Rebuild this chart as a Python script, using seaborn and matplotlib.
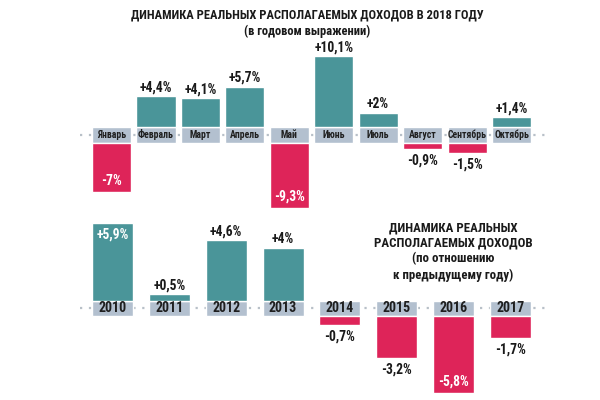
import os
import matplotlib
matplotlib.use("Agg")
import matplotlib.pyplot as plt
from matplotlib import font_manager as fm
import seaborn as sns

# Data
months = ["Январь", "Февраль", "Март", "Апрель", "Май", "Июнь", "Июль", "Август", "Сентябрь", "Октябрь"]
month_vals = [-7.0, 4.4, 4.1, 5.7, -9.3, 10.1, 2.0, -0.9, -1.5, 1.4]
years = ["2010", "2011", "2012", "2013", "2014", "2015", "2016", "2017"]
year_vals = [5.9, 0.5, 4.6, 4.0, -0.7, -3.2, -5.8, -1.7]

title_top = "ДИНАМИКА РЕАЛЬНЫХ РАСПОЛАГАЕМЫХ ДОХОДОВ В 2018 ГОДУ"
subtitle_top = "(в годовом выражении)"
title_bottom = ["ДИНАМИКА РЕАЛЬНЫХ", "РАСПОЛАГАЕМЫХ ДОХОДОВ", "(по отношению", "к предыдущему году)"]

TEAL = "#4a9599"
RED = "#de2459"
BAND = "#b3c0cf"
DOTS = "#b8c0c8"
INK = "#1a1a1a"

sns.set_theme(style="white")


# look for a narrow bold face with cyrillic (the original uses a condensed font)
def find_condensed_bold():
    prefs = ["liberationsansnarrowbold", "opensanscondensedbold", "robotocondensedbold",
             "dejavusanscondensedbold", "condensedbold", "narrowbold"]
    files = [f.fname for f in fm.fontManager.ttflist]
    for key in prefs:
        for fn in files:
            base = os.path.basename(fn).lower()
            for ch in " _-":
                base = base.replace(ch, "")
            if key in base and "italic" not in base and "oblique" not in base \
                    and "semicondensed" not in base:
                return fn
    return None


FONT_PATH = find_condensed_bold()
# DejaVu Condensed is still fairly wide, shrink it a bit
SCALE = 0.8 if (FONT_PATH is None or "dejavu" in FONT_PATH.lower()) else 1.0


def fp(size):
    if FONT_PATH:
        return fm.FontProperties(fname=FONT_PATH, size=size * SCALE)
    return fm.FontProperties(family="DejaVu Sans", weight="bold", size=size * SCALE)


def fmt(v):
    s = f"{v:+.1f}".replace(".", ",")
    if s.endswith(",0"):
        s = s[:-2]
    return s + "%"


def draw_panel(ax, cats, vals, gap, width, pos_thr, neg_thr, cat_size, val_size, xlim, ylim):
    colors = [TEAL if v > 0 else RED for v in vals]
    sns.barplot(x=cats, y=vals, hue=cats, palette=colors, legend=False,
                width=width, saturation=1, ax=ax, zorder=3)
    # shift bars off the label band
    for p in ax.patches:
        p.set_y(gap if p.get_height() > 0 else -gap)
        p.set_clip_on(False)
    idx = list(range(len(cats)))
    ax.axhline(0, color=DOTS, lw=1.6, ls=(0, (1, 3)), zorder=1)
    ax.bar(idx, 2 * gap, bottom=-gap, width=width, color=BAND, zorder=2, clip_on=False)
    for i, (c, v) in enumerate(zip(cats, vals)):
        ax.text(i, 0, c, ha="center", va="center", fontproperties=fp(cat_size),
                color="#1f1f1f", zorder=4)
        if v > 0:
            y = gap + v
            if v > pos_thr:
                ax.annotate(fmt(v), (i, y), xytext=(0, -3), textcoords="offset points",
                            ha="center", va="top", fontproperties=fp(val_size),
                            color="white", zorder=5)
            else:
                ax.annotate(fmt(v), (i, y), xytext=(0, 1.5), textcoords="offset points",
                            ha="center", va="bottom", fontproperties=fp(val_size),
                            color=INK, zorder=5)
        else:
            y = -gap + v
            if -v > neg_thr:
                ax.annotate(fmt(v), (i, y), xytext=(0, 3), textcoords="offset points",
                            ha="center", va="bottom", fontproperties=fp(val_size),
                            color="white", zorder=5)
            else:
                ax.annotate(fmt(v), (i, y), xytext=(0, -3), textcoords="offset points",
                            ha="center", va="top", fontproperties=fp(val_size),
                            color=INK, zorder=5)
    ax.set_xlim(*xlim)
    ax.set_ylim(*ylim)
    ax.axis("off")


fig = plt.figure(figsize=(6, 4), dpi=100)

# top panel: monthly 2018
ax1 = fig.add_axes([0.1333, 0.4625, 0.78, 0.4375])
ax1.patch.set_alpha(0)
draw_panel(ax1, months, month_vals, gap=1.14, width=0.88, pos_thr=50, neg_thr=6,
           cat_size=7, val_size=9.8, xlim=(-0.709, 9.82), ylim=(-11.43, 13.57))

# bottom panel: yearly
ax2 = fig.add_axes([0.1333, 0.005, 0.78, 0.47])
ax2.patch.set_alpha(0)
draw_panel(ax2, years, year_vals, gap=0.57, width=0.72, pos_thr=5, neg_thr=5,
           cat_size=10, val_size=9.8, xlim=(-0.572, 7.66), ylim=(-6.78, 7.46))

fig.text(0.5125, 0.962, title_top, ha="center", va="center", fontproperties=fp(9), color=INK)
fig.text(0.5125, 0.921, subtitle_top, ha="center", va="center", fontproperties=fp(9), color=INK)
for line, yy in zip(title_bottom, [0.43, 0.3925, 0.3525, 0.3125]):
    fig.text(0.755, yy, line, ha="center", va="center", fontproperties=fp(9.3), color=INK)

fig.savefig("out.png", dpi=100, facecolor="white")
